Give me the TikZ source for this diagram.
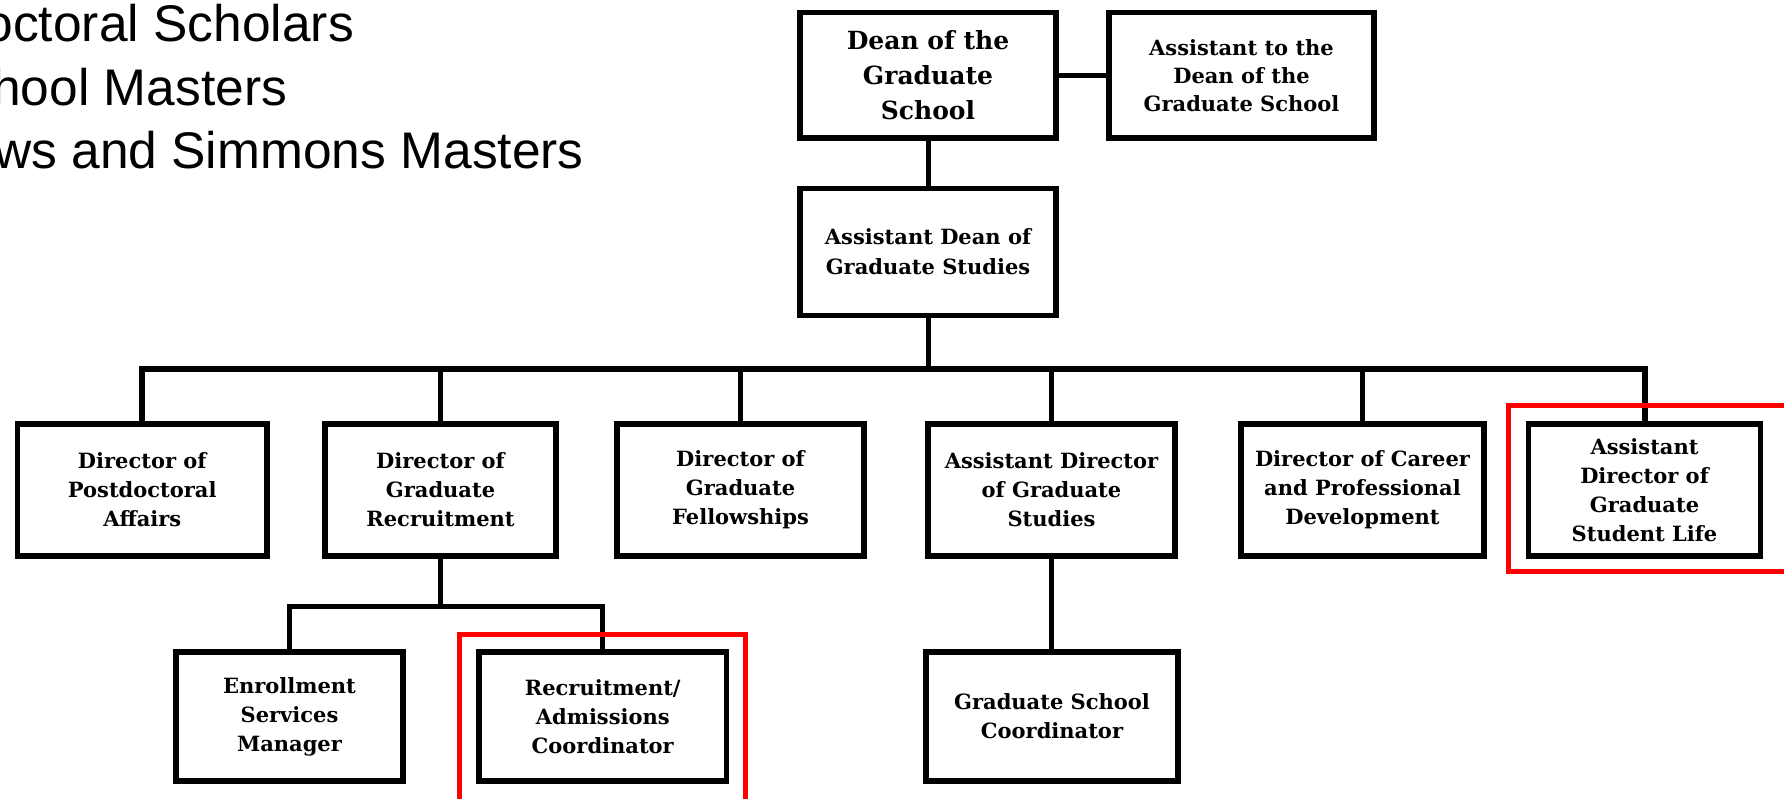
\documentclass[tikz,border=0pt]{standalone}
\usepackage{fontspec}
\setmainfont{DejaVu Serif}
\newfontfamily\arialfont{Liberation Sans}
\begin{document}
\begin{tikzpicture}[x=1pt,y=-1pt,
  box/.style={draw=black, line width=5.5pt, inner sep=0pt, align=center,
    font=\bfseries\fontsize{21}{29}\selectfont},
  conn/.style={draw=black, line width=5pt},
  busline/.style={draw=black, line width=6pt},
  redbox/.style={draw=red, line width=5pt},
  toptext/.style={anchor=base west, inner sep=0pt, font=\arialfont\fontsize{51.5}{60}\selectfont}]
\useasboundingbox (0,0) rectangle (1784,798);
\clip (0,0) rectangle (1784,798);
\fill[white] (0,0) rectangle (1784,798);

% top-left text (cut by the edge)
\node[toptext] (t1) at (-15.6,41) {octoral Scholars};
\node[toptext] (t2) at (-8,105) {hool Masters};
\node[toptext] (t3) at (-6,168) {ws and Simmons Masters};

% row 1
\node[box, font=\bfseries\fontsize{25}{35}\selectfont, minimum width=256pt, minimum height=125.5pt] (dean) at (928,75.25) {Dean of the\\Graduate\\School};
\node[box, minimum width=265pt, minimum height=125.5pt, font=\bfseries\fontsize{21}{28}\selectfont] (atd) at (1241.5,75.25) {Assistant to the\\Dean of the\\Graduate School};
% row 2
\node[box, minimum width=256pt, minimum height=127pt, font=\bfseries\fontsize{21}{30}\selectfont] (ad) at (928,252) {Assistant Dean of\\Graduate Studies};
% row 3
\node[box, minimum width=249.5pt, minimum height=132pt] (pd) at (142.25,490) {Director of\\Postdoctoral\\Affairs};
\node[box, minimum width=231pt, minimum height=132pt] (gr) at (440.5,490) {Director of\\Graduate\\Recruitment};
\node[box, minimum width=247pt, minimum height=132pt] (gf) at (740.5,490) {Director of\\Graduate\\Fellowships};
\node[box, minimum width=247pt, minimum height=132pt] (ads) at (1051.5,490) {Assistant Director\\of Graduate\\Studies};
\node[box, minimum width=243pt, minimum height=132pt] (cpd) at (1362.5,490) {Director of Career\\and Professional\\Development};
\node[box, minimum width=232pt, minimum height=132pt] (sl) at (1644.5,490) {Assistant\\Director of\\Graduate\\Student Life};
% row 4
\node[box, minimum width=227pt, minimum height=129pt] (esm) at (289.5,716.5) {Enrollment\\Services\\Manager};
\node[box, minimum width=247.5pt, minimum height=129pt] (ra) at (602.75,716.5) {Recruitment/\\Admissions\\Coordinator};
\node[box, minimum width=252pt, minimum height=129pt] (gsc) at (1052,716.5) {Graduate School\\Coordinator};

% connectors
\coordinate (busy) at (0,369);
\coordinate (suby) at (0,606);
\draw[conn] (dean.east) -- (atd.west);
\draw[conn] (dean.south) -- (ad.north);
\draw[conn] (ad.south) -- (ad.south |- busy);
\draw[busline] (pd.north) -- (pd.north |- busy) -- (sl.north |- busy) -- (sl.north);
\draw[conn] (gr.north) -- (gr.north |- busy);
\draw[conn] (gf.north) -- (gf.north |- busy);
\draw[conn] (ads.north) -- (ads.north |- busy);
\draw[conn] (cpd.north) -- (cpd.north |- busy);
\draw[conn] (gr.south) -- (gr.south |- suby);
\draw[conn] (esm.north) -- (esm.north |- suby) -- (ra.north |- suby) -- (ra.north);
\draw[conn] (ads.south) -- (ads.south |- gsc.north);

% red highlight frames
\draw[redbox] (1508.5,405.5) rectangle (1800,571.5);
\draw[redbox] (459.5,634) rectangle (745.5,812);
\end{tikzpicture}
\end{document}
